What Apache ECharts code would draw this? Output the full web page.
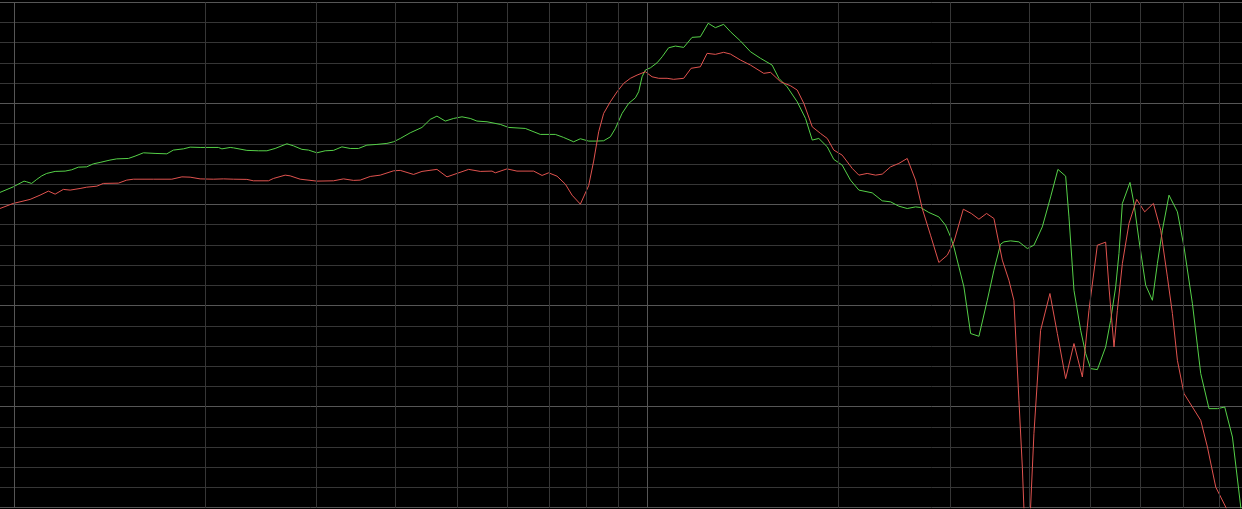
<!DOCTYPE html>
<html>
<head>
<meta charset="utf-8">
<style>
html,body{margin:0;padding:0;background:#000;}
#chart{width:1242px;height:509px;}
</style>
<script src="https://cdn.jsdelivr.net/npm/echarts@6/dist/echarts.min.js"></script>
</head>
<body>
<div id="chart"></div>
<script>
// Frequency (Hz) / level (dB)
const greenFreq = [94.9, 99.6, 103.6, 104.6, 106.5, 108.5, 110.5, 112.5, 116.0, 120.3,
  123.2, 126.2, 130.1, 133.3, 136.6, 141.6, 145.1, 151.4, 155.1, 159.9,
  166.8, 174.1, 178.3, 184.9, 189.5, 196.5, 210.0, 212.7, 219.2, 221.8,
  232.9, 242.9, 250.5, 258.1, 269.4, 275.9, 284.5, 291.4, 300.4, 309.6,
  319.1, 329.0, 339.1, 349.5, 360.3, 373.7, 387.5, 397.0, 406.8, 421.8,
  440.2, 453.7, 464.8, 479.1, 493.8, 509.1, 524.7, 537.6, 557.6, 585.2,
  603.1, 640.9, 676.9, 714.8, 736.7, 764.0, 782.9, 806.9, 829.8, 852.1,
  873.1, 889.2, 911.1, 933.2, 956.3, 967.8, 979.8, 991.7, 1010, 1035,
  1054, 1079, 1106, 1140, 1175, 1211, 1246, 1279, 1318, 1351,
  1401, 1453, 1507, 1572, 1611, 1660, 1722, 1775, 1819, 1863,
  1921, 1967, 2028, 2090, 2155, 2262, 2346, 2418, 2492, 2569,
  2648, 2697, 2779, 2882, 2953, 3008, 3044, 3100, 3157, 3235,
  3334, 3437, 3521, 3607, 3651, 3741, 3856, 3976, 4072, 4198,
  4327, 4443, 4570, 4625, 4710, 4826, 4915, 5005, 5128, 5285,
  5382, 5481, 5547, 5616, 5774, 5858, 5966, 6113, 6264, 6379,
  6496, 6654, 6860, 7027, 7245, 7467, 7696, 7935, 8148, 8380,
  8637, 8720];
const greenDb = [-8.81, -8.26, -7.69, -7.76, -7.92, -7.52, -7.17, -6.93, -6.73, -6.70,
  -6.57, -6.31, -6.28, -5.98, -5.84, -5.61, -5.49, -5.45, -5.22, -4.89,
  -4.95, -4.99, -4.62, -4.50, -4.33, -4.36, -4.36, -4.50, -4.36, -4.40,
  -4.65, -4.69, -4.69, -4.46, -4.00, -4.20, -4.55, -4.62, -4.89, -4.69,
  -4.65, -4.30, -4.46, -4.46, -4.13, -4.06, -3.96, -3.80, -3.47, -2.91,
  -2.38, -1.58, -1.26, -1.75, -1.49, -1.33, -1.49, -1.75, -1.82, -2.08,
  -2.38, -2.48, -3.07, -3.07, -3.37, -3.80, -3.50, -3.73, -3.73, -3.70,
  -3.31, -2.48, -0.99, 0.00, 0.55, 1.15, 2.63, 3.30, 3.52, 4.02,
  4.61, 5.50, 5.67, 5.54, 6.53, 6.59, 7.92, 7.49, 7.82, 7.09,
  6.17, 5.11, 4.46, 3.79, 2.48, 1.64, 0.16, -1.49, -3.63, -3.47,
  -4.30, -5.54, -6.11, -7.59, -8.58, -8.85, -9.64, -9.74, -10.17, -10.40,
  -10.24, -10.30, -10.79, -11.23, -12.05, -13.21, -14.20, -16.18, -18.16, -22.77,
  -23.04, -19.48, -16.50, -13.93, -13.70, -13.60, -13.70, -14.36, -14.03, -12.22,
  -9.25, -6.53, -7.20, -11.23, -18.49, -22.45, -24.75, -26.24, -26.34, -24.10,
  -21.46, -18.16, -14.85, -9.90, -7.82, -9.90, -13.53, -17.99, -19.48, -15.84,
  -12.54, -9.08, -10.73, -14.20, -19.80, -26.73, -30.20, -30.20, -30.04, -33.01,
  -39.94, -42.5];

const redFreq = [94.9, 99.6, 102.1, 105.9, 109.8, 113.2, 116.0, 119.5, 122.5, 127.0,
  130.1, 135.0, 138.2, 146.0, 150.5, 154.2, 165.8, 177.3, 183.9, 189.5,
  196.5, 206.3, 213.9, 221.8, 232.9, 238.5, 251.9, 256.5, 267.7, 272.6,
  282.7, 300.4, 319.1, 330.9, 343.2, 351.7, 364.7, 378.2, 397.0, 406.8,
  426.9, 440.2, 464.8, 482.1, 499.9, 521.5, 544.1, 567.8, 574.7, 599.6,
  621.8, 660.6, 681.1, 697.6, 719.2, 741.3, 759.6, 782.9, 806.9, 821.7,
  836.8, 852.1, 873.1, 894.7, 916.4, 939.0, 962.2, 991.7, 1016, 1041,
  1073, 1099, 1140, 1171, 1211, 1241, 1279, 1318, 1351, 1401,
  1453, 1525, 1563, 1621, 1681, 1722, 1764, 1819, 1874, 1921,
  1967, 2028, 2104, 2155, 2221, 2290, 2346, 2418, 2492, 2569,
  2648, 2713, 2796, 2882, 2972, 3044, 3150, 3243, 3334, 3428,
  3521, 3630, 3718, 3786, 3856, 3904, 3944, 4001, 4072, 4172,
  4316, 4434, 4570, 4710, 4856, 4974, 5128, 5285, 5349, 5448,
  5515, 5616, 5753, 5916, 6091, 6287, 6456, 6615, 6737, 6860,
  7027, 7245, 7467, 7651, 7886, 8178, 8574];
const redDb = [-10.40, -9.90, -9.74, -9.50, -9.08, -8.68, -8.98, -8.51, -8.58, -8.42,
  -8.29, -8.19, -7.92, -7.89, -7.59, -7.50, -7.50, -7.50, -7.27, -7.30,
  -7.47, -7.50, -7.47, -7.50, -7.52, -7.66, -7.66, -7.43, -7.10, -7.17,
  -7.50, -7.69, -7.66, -7.47, -7.62, -7.59, -7.23, -7.10, -6.67, -6.63,
  -7.03, -6.73, -6.53, -7.27, -6.93, -6.53, -6.73, -6.70, -6.87, -6.48,
  -6.70, -6.70, -7.13, -6.87, -7.20, -7.99, -9.08, -9.97, -8.14, -5.71,
  -2.81, -0.99, 0.16, 1.15, 1.98, 2.48, 2.80, 3.13, 2.63, 2.48,
  2.48, 2.38, 2.48, 3.47, 3.62, 4.95, 4.85, 5.05, 4.88, 4.29,
  3.79, 2.97, 3.07, 2.14, 1.74, 1.32, 0.00, -2.32, -2.97, -3.47,
  -4.62, -5.12, -6.44, -7.10, -6.93, -7.10, -7.00, -6.28, -5.94, -5.45,
  -7.59, -10.40, -13.04, -15.74, -15.02, -13.70, -10.47, -10.89, -11.46, -10.89,
  -11.39, -15.51, -17.50, -19.48, -29.38, -35.98, -43.24, -43.24, -32.67, -22.45,
  -18.81, -22.77, -27.23, -23.76, -27.07, -20.47, -14.03, -13.73, -18.16, -24.10,
  -20.47, -15.84, -11.88, -9.50, -10.73, -9.90, -12.54, -17.17, -20.79, -25.42,
  -28.71, -30.04, -31.36, -34.00, -37.96, -39.94, -43.24];

// Grid values
const decadeLines = [100, 1000];
const minorFreqLines = [200, 300, 400, 500, 600, 700, 800, 900,
  2000, 3000, 4000, 5000, 6000, 7000, 8000];
const freqMin = 94.93, freqMax = 8676;
const dbMin = -40, dbMax = 10, dbStep = 10;

const pairs = (xs, ys) => xs.map((x, i) => [x, ys[i]]);

const chart = echarts.init(document.getElementById('chart'), null, {renderer: 'canvas'});
const minorColor = '#363636';
const majorColor = '#565656';

chart.setOption({
  backgroundColor: '#000000',
  animation: false,
  grid: {left: 0, right: 0, top: 2.3, bottom: 1.3, containLabel: false},
  xAxis: {
    type: 'log', logBase: 10, min: freqMin, max: freqMax,
    axisLine: {show: false}, axisTick: {show: false}, axisLabel: {show: false},
    splitLine: {show: false}
  },
  yAxis: {
    type: 'value', min: dbMin, max: dbMax, interval: dbStep,
    axisLine: {show: false}, axisTick: {show: false}, axisLabel: {show: false},
    splitLine: {show: true, lineStyle: {color: majorColor, width: 1}},
    minorTick: {show: false, splitNumber: 5},
    minorSplitLine: {show: true, lineStyle: {color: minorColor, width: 1}}
  },
  series: [
    {
      type: 'line', data: [], z: 1, silent: true,
      markLine: {
        silent: true, symbol: ['none', 'none'], animation: false,
        label: {show: false},
        emphasis: {disabled: true},
        lineStyle: {color: minorColor, width: 1, type: 'solid'},
        data: minorFreqLines.map(v => ({xAxis: v}))
          .concat(decadeLines.map(v => ({xAxis: v, lineStyle: {color: majorColor, width: 1, type: 'solid'}})))
      }
    },
    {
      name: 'green', type: 'line', z: 3, showSymbol: false, symbol: 'none',
      data: pairs(greenFreq, greenDb),
      lineStyle: {color: '#55d048', width: 1}, silent: true
    },
    {
      name: 'red', type: 'line', z: 4, showSymbol: false, symbol: 'none',
      data: pairs(redFreq, redDb),
      lineStyle: {color: '#e0534f', width: 1}, silent: true
    }
  ]
});
</script>
</body>
</html>
